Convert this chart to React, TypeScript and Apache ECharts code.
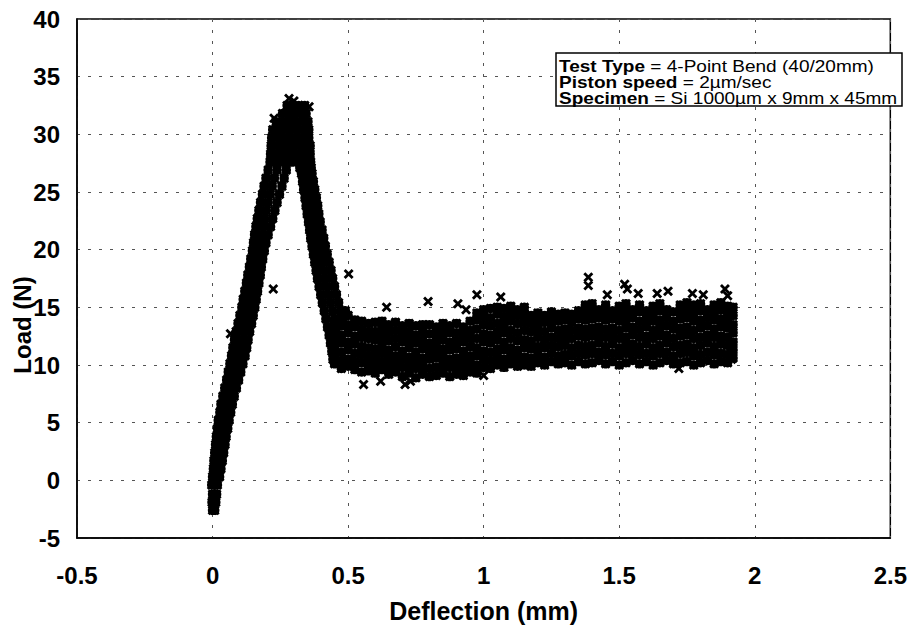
import React, { useEffect, useRef } from "react";
import * as echarts from "echarts";

// Axis ticks
const xTicks = [-0.5, 0, 0.5, 1, 1.5, 2, 2.5];
const yTicks = [-5, 0, 5, 10, 15, 20, 25, 30, 35, 40];

// Loading branch: [load, deflection1, deflection2, ...]
const risingRows: number[][] = [
  [-2.6, 0.0, 0.008],
  [-1.9, -0.002, 0.006, 0.012],
  [-1.2, 0.0, 0.008, 0.015],
  [-0.4, -0.003, 0.007, 0.018],
  [0.3, 0.0, 0.012, 0.026],
  [1.0, 0.003, 0.016, 0.031],
  [1.7, 0.005, 0.02, 0.036],
  [2.4, 0.008, 0.024, 0.041],
  [3.1, 0.011, 0.028, 0.046],
  [3.8, 0.014, 0.032, 0.05],
  [4.5, 0.018, 0.036, 0.056],
  [5.2, 0.021, 0.04, 0.061],
  [5.9, 0.027, 0.047, 0.067],
  [6.6, 0.031, 0.053, 0.073],
  [7.3, 0.038, 0.06, 0.08],
  [8.0, 0.045, 0.067, 0.088],
  [8.7, 0.052, 0.075, 0.096],
  [9.4, 0.058, 0.081, 0.104],
  [10.1, 0.064, 0.088, 0.112],
  [10.8, 0.07, 0.095, 0.12],
  [11.5, 0.075, 0.1, 0.126],
  [12.2, 0.081, 0.106, 0.131],
  [12.9, 0.087, 0.112, 0.137],
  [13.6, 0.094, 0.119, 0.144],
  [14.3, 0.101, 0.126, 0.15],
  [15.0, 0.108, 0.132, 0.156],
  [15.7, 0.113, 0.138, 0.161],
  [16.4, 0.119, 0.143, 0.166],
  [17.1, 0.125, 0.148, 0.171],
  [17.8, 0.13, 0.153, 0.176],
  [18.5, 0.136, 0.158, 0.18],
  [19.2, 0.141, 0.163, 0.185],
  [19.9, 0.147, 0.169, 0.191],
  [20.6, 0.151, 0.175, 0.197],
  [21.3, 0.155, 0.18, 0.205],
  [22.0, 0.16, 0.186, 0.214],
  [22.7, 0.165, 0.192, 0.222],
  [23.4, 0.171, 0.198, 0.23],
  [24.1, 0.177, 0.205, 0.238],
  [24.8, 0.184, 0.213, 0.247],
  [25.5, 0.19, 0.22, 0.256],
  [26.2, 0.197, 0.228, 0.264],
  [26.9, 0.205, 0.238, 0.272],
];

// Peak region: [load, deflections...]
const peakRows: number[][] = [
  [27.6, 0.212, 0.24, 0.268, 0.295, 0.32, 0.345, 0.362],
  [28.3, 0.214, 0.242, 0.27, 0.298, 0.326, 0.35, 0.36],
  [29.0, 0.216, 0.245, 0.272, 0.3, 0.328, 0.352, 0.36],
  [29.7, 0.218, 0.246, 0.275, 0.303, 0.33, 0.355],
  [30.4, 0.222, 0.25, 0.278, 0.306, 0.333, 0.355],
  [31.1, 0.235, 0.26, 0.285, 0.31, 0.335, 0.352],
  [31.8, 0.258, 0.28, 0.302, 0.325, 0.345],
  [32.5, 0.275, 0.295, 0.318, 0.34],
];

// Post-peak drop: [load, deflections...]
const fallingRows: number[][] = [
  [27.1, 0.322, 0.343, 0.364],
  [26.6, 0.328, 0.348, 0.367],
  [25.9, 0.332, 0.352, 0.372],
  [25.2, 0.336, 0.357, 0.377],
  [24.5, 0.341, 0.362, 0.383],
  [23.8, 0.345, 0.367, 0.388],
  [23.1, 0.349, 0.371, 0.392],
  [22.4, 0.354, 0.376, 0.397],
  [21.7, 0.358, 0.381, 0.404],
  [21.0, 0.362, 0.386, 0.41],
  [20.3, 0.367, 0.391, 0.416],
  [19.6, 0.372, 0.397, 0.423],
  [18.9, 0.377, 0.403, 0.43],
  [18.2, 0.382, 0.409, 0.437],
  [17.5, 0.387, 0.415, 0.443],
  [16.8, 0.393, 0.421, 0.45],
  [16.1, 0.399, 0.428, 0.457],
  [15.4, 0.405, 0.435, 0.465],
  [14.7, 0.412, 0.443, 0.474, 0.49],
  [14.0, 0.418, 0.45, 0.48],
  [13.3, 0.424, 0.455],
  [12.6, 0.43, 0.448],
  [11.9, 0.435, 0.45],
  [11.2, 0.44],
  [10.5, 0.444],
];

// Residual plateau: [deflection, loads...]
const plateauCols: number[][] = [
  [0.45, 10.1, 10.8, 11.5, 12.3, 13.0, 13.8],
  [0.475, 9.7, 10.4, 11.1, 11.9, 12.6, 13.4, 14.1],
  [0.5, 9.9, 10.5, 11.3, 12.0, 12.8, 13.5, 14.3],
  [0.525, 9.6, 10.3, 11.0, 11.8, 12.5, 13.3, 13.9],
  [0.55, 9.4, 10.2, 10.9, 11.6, 12.4, 13.1, 13.8],
  [0.575, 9.5, 10.1, 10.8, 11.5, 12.3, 12.9, 13.6],
  [0.6, 9.3, 10.0, 10.7, 11.4, 12.2, 12.9, 13.7],
  [0.625, 9.6, 10.3, 11.0, 11.7, 12.4, 13.1, 13.8],
  [0.65, 9.2, 9.9, 10.6, 11.3, 12.1, 12.8, 13.5],
  [0.675, 9.4, 10.1, 10.8, 11.6, 12.3, 13.0, 13.7],
  [0.7, 9.0, 9.8, 10.5, 11.2, 12.0, 12.7, 13.4],
  [0.725, 9.3, 10.0, 10.7, 11.5, 12.2, 12.9, 13.6],
  [0.75, 8.9, 9.7, 10.4, 11.1, 11.9, 12.6, 13.4],
  [0.775, 9.2, 9.9, 10.6, 11.4, 12.1, 12.8, 13.5],
  [0.8, 9.0, 9.7, 10.5, 11.2, 11.9, 12.7, 13.5],
  [0.825, 9.1, 9.8, 10.6, 11.3, 12.0, 12.7, 13.3],
  [0.85, 9.3, 10.0, 10.7, 11.4, 12.2, 12.9, 13.6],
  [0.875, 9.0, 9.8, 10.5, 11.3, 12.0, 12.8, 13.4],
  [0.9, 9.2, 9.9, 10.6, 11.4, 12.1, 12.8, 13.6],
  [0.925, 9.1, 9.8, 10.5, 11.2, 12.0, 12.7, 13.3],
  [0.95, 9.4, 10.1, 10.8, 11.6, 12.3, 13.0, 13.8],
  [0.975, 9.3, 10.0, 10.8, 11.5, 12.3, 13.1, 13.9, 14.5],
  [1.0, 9.8, 10.5, 11.2, 12.0, 12.7, 13.5, 14.2, 14.8],
  [1.025, 9.7, 10.4, 11.1, 11.9, 12.6, 13.4, 14.1, 14.9],
  [1.05, 10.0, 10.7, 11.4, 12.2, 12.9, 13.6, 14.4, 15.0],
  [1.075, 9.8, 10.5, 11.3, 12.0, 12.8, 13.5, 14.2, 14.9],
  [1.1, 10.1, 10.8, 11.5, 12.3, 13.0, 13.8, 14.5, 15.1],
  [1.125, 9.9, 10.6, 11.3, 12.1, 12.8, 13.6, 14.3, 14.8],
  [1.15, 10.0, 10.7, 11.5, 12.2, 13.0, 13.7, 14.4, 15.0],
  [1.175, 9.9, 10.6, 11.4, 12.1, 12.9, 13.6, 14.3],
  [1.2, 10.2, 10.9, 11.6, 12.4, 13.1, 13.8, 14.5],
  [1.225, 10.0, 10.7, 11.5, 12.2, 12.9, 13.7, 14.3],
  [1.25, 10.3, 11.0, 11.7, 12.4, 13.2, 13.9, 14.6],
  [1.275, 10.1, 10.8, 11.6, 12.3, 13.0, 13.8, 14.4],
  [1.3, 10.2, 10.9, 11.7, 12.4, 13.1, 13.9, 14.5],
  [1.325, 10.0, 10.8, 11.5, 12.3, 13.0, 13.7, 14.4],
  [1.35, 10.3, 11.0, 11.7, 12.5, 13.2, 14.0, 14.7],
  [1.375, 10.1, 10.9, 11.6, 12.4, 13.1, 13.9, 14.6, 15.2],
  [1.4, 10.2, 11.0, 11.7, 12.5, 13.2, 14.0, 14.7, 15.3],
  [1.425, 10.4, 11.1, 11.9, 12.6, 13.3, 14.1, 14.8],
  [1.45, 10.1, 10.9, 11.6, 12.4, 13.1, 13.9, 14.6, 15.2],
  [1.475, 10.3, 11.0, 11.8, 12.5, 13.2, 14.0, 14.7],
  [1.5, 10.0, 10.8, 11.5, 12.3, 13.0, 13.8, 14.5, 15.1],
  [1.525, 10.2, 11.0, 11.7, 12.4, 13.2, 13.9, 14.6, 15.3],
  [1.55, 10.4, 11.1, 11.8, 12.6, 13.3, 14.1, 14.8],
  [1.575, 10.1, 10.9, 11.6, 12.4, 13.1, 13.8, 14.6, 15.2],
  [1.6, 10.3, 11.0, 11.8, 12.5, 13.3, 14.0, 14.7],
  [1.625, 10.0, 10.8, 11.5, 12.3, 13.0, 13.8, 14.5, 15.1],
  [1.65, 10.2, 11.0, 11.7, 12.5, 13.2, 13.9, 14.7, 15.3],
  [1.675, 10.4, 11.1, 11.9, 12.6, 13.4, 14.1, 14.8],
  [1.7, 10.1, 10.8, 11.6, 12.3, 13.1, 13.8, 14.6],
  [1.725, 10.2, 11.0, 11.7, 12.5, 13.2, 14.0, 14.7, 15.2],
  [1.75, 10.3, 11.1, 11.8, 12.6, 13.3, 14.1, 14.8, 15.4],
  [1.775, 10.0, 10.8, 11.5, 12.3, 13.0, 13.8, 14.5, 15.2],
  [1.8, 10.2, 10.9, 11.7, 12.4, 13.2, 13.9, 14.7, 15.3],
  [1.825, 10.4, 11.1, 11.9, 12.6, 13.4, 14.1, 14.8],
  [1.85, 10.1, 10.9, 11.6, 12.4, 13.1, 13.9, 14.6, 15.2],
  [1.875, 10.3, 11.0, 11.8, 12.5, 13.3, 14.0, 14.8, 15.4],
  [1.9, 10.2, 10.9, 11.7, 12.4, 13.2, 13.9, 14.6, 15.1],
  [1.92, 10.6, 11.3, 12.0, 12.8, 13.5, 14.3, 15.0],
];

// Scattered individual points: [deflection, load]
const outliers: number[][] = [
  [0.282, 33.1], [0.3, 32.9], [0.356, 32.4], [0.227, 31.4],
  [0.224, 16.6], [0.066, 12.7], [0.502, 17.9], [0.557, 8.3],
  [0.62, 8.6], [0.71, 8.3], [0.73, 8.6], [0.642, 15.0],
  [0.795, 15.5], [0.905, 15.3], [0.935, 14.8], [0.975, 16.1],
  [1.0, 9.1], [1.063, 15.9], [1.386, 17.6], [1.386, 16.9],
  [1.456, 16.1], [1.52, 17.0], [1.53, 16.6], [1.57, 16.2],
  [1.64, 16.2], [1.68, 16.4], [1.72, 9.7], [1.77, 16.2],
  [1.81, 16.1], [1.89, 16.6], [1.9, 16.0], [1.914, 10.5],
];

const boxLines = [
  ["Test Type", " = 4-Point Bend (40/20mm)"],
  ["Piston speed", " = 2µm/sec"],
  ["Specimen", " = Si 1000µm x 9mm x 45mm"],
];

const FONT = "'Liberation Sans', Arial, Helvetica, sans-serif";
const CROSS =
  "path://M0,2 L2,0 L5,3 L8,0 L10,2 L7,5 L10,8 L8,10 L5,7 L2,10 L0,8 L3,5 Z";

function bandPoints(): number[][] {
  const pts: number[][] = [];
  for (const rows of [risingRows, peakRows, fallingRows]) {
    for (const r of rows) {
      for (let i = 1; i < r.length; i++) pts.push([r[i], r[0]]);
    }
  }
  for (const c of plateauCols) {
    for (let i = 1; i < c.length; i++) pts.push([c[0], c[i]]);
  }
  return pts;
}

export default function App() {
  const ref = useRef<HTMLDivElement>(null);
  useEffect(() => {
    if (!ref.current) return;
    const chart = echarts.init(ref.current, undefined, { renderer: "svg" });
    const boxText = boxLines.map((l) => `{b|${l[0]}}{n|${l[1]}}`).join("\n");
    const band = bandPoints();
    const all = band.concat(outliers.map((o) => [o[0], o[1]]));
    const gridLine = { show: true, lineStyle: { color: "#555", type: [3, 8], width: 1 } };
    chart.setOption({
      animation: false,
      backgroundColor: "#fff",
      grid: {
        left: 77,
        right: 17,
        top: 19,
        bottom: 91,
        show: true,
        borderColor: "#000",
        borderWidth: 1.5,
      },
      xAxis: {
        type: "value",
        min: xTicks[0],
        max: xTicks[xTicks.length - 1],
        interval: 0.5,
        name: "Deflection (mm)",
        nameLocation: "middle",
        nameGap: 60,
        nameTextStyle: { fontFamily: FONT, fontWeight: "bold", fontSize: 25, color: "#000" },
        axisLine: { show: true, onZero: false, lineStyle: { color: "#000", width: 1.5 } },
        axisTick: { show: false },
        axisLabel: { fontFamily: FONT, fontWeight: "bold", fontSize: 24, color: "#000", margin: 25 },
        splitLine: gridLine,
      },
      yAxis: {
        type: "value",
        min: yTicks[0],
        max: yTicks[yTicks.length - 1],
        interval: 5,
        axisLine: { show: true, onZero: false, lineStyle: { color: "#000", width: 1.5 } },
        axisTick: { show: false },
        axisLabel: { fontFamily: FONT, fontWeight: "bold", fontSize: 24, color: "#000", margin: 17 },
        splitLine: gridLine,
      },
      series: [
        {
          type: "scatter",
          data: band,
          symbol: "circle",
          symbolSize: 9.5,
          itemStyle: { color: "#000", opacity: 1 },
          silent: true,
          z: 2,
        },
        {
          type: "scatter",
          data: all,
          symbol: CROSS,
          symbolSize: 10,
          itemStyle: { color: "#000", opacity: 1 },
          silent: true,
          z: 3,
        },
      ],
      graphic: [
        {
          type: "text",
          x: 22,
          y: 325,
          rotation: Math.PI / 2,
          style: {
            text: "Load (N)",
            fontFamily: FONT,
            fontWeight: "bold",
            fontSize: 24,
            fill: "#000",
            align: "center",
            verticalAlign: "middle",
          },
          z: 100,
        },
        {
          type: "rect",
          shape: { x: 556, y: 53, width: 346, height: 53 },
          style: { fill: "#fff", stroke: "#000", lineWidth: 1.5 },
          z: 100,
        },
        {
          type: "text",
          x: 559,
          y: 58,
          scaleX: 1.12,
          style: {
            text: boxText,
            fontFamily: FONT,
            fontSize: 17,
            lineHeight: 16,
            fill: "#000",
            rich: {
              b: { fontFamily: FONT, fontSize: 17, fontWeight: "bold", lineHeight: 16, fill: "#000" },
              n: { fontFamily: FONT, fontSize: 17, lineHeight: 16, fill: "#000" },
            },
          },
          z: 101,
        },
      ],
    });
    return () => chart.dispose();
  }, []);
  return (
    <div
      ref={ref}
      style={{ position: "fixed", left: 0, top: 0, width: 910, height: 629, background: "#fff" }}
    />
  );
}
